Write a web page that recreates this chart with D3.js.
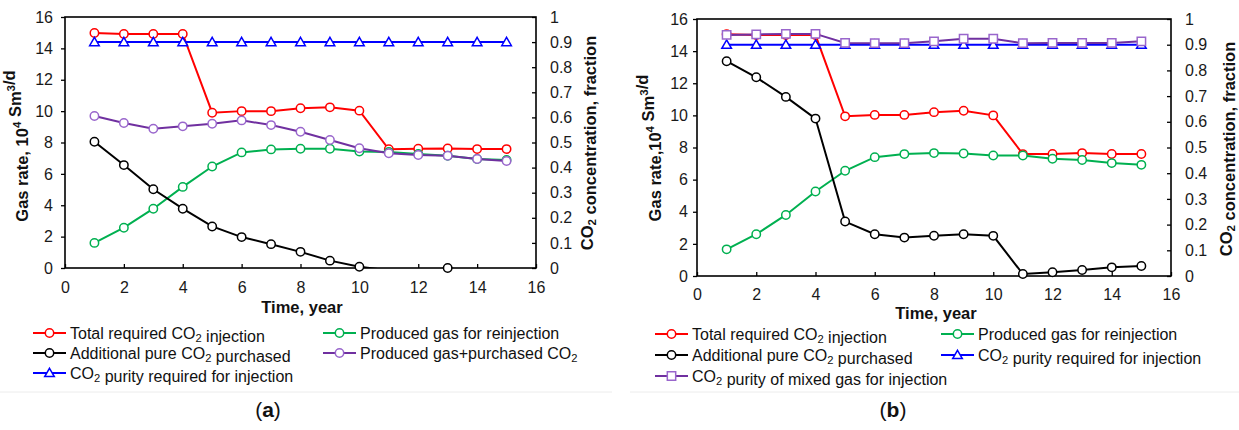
<!DOCTYPE html>
<html><head><meta charset="utf-8">
<script src="https://cdn.jsdelivr.net/npm/d3@7"></script>
<style>
body{margin:0;background:#fff}
text{font-family:Arial,"Liberation Sans",sans-serif}
</style>
</head><body>
<svg id="c" width="1239" height="430"></svg>
<script>
// ---------- data ----------
const years = [1,2,3,4,5,6,7,8,9,10,11,12,13,14,15];
const xTicks = [0,2,4,6,8,10,12,14,16];
const yLeftTicks = [0,2,4,6,8,10,12,14,16];
const yRightTicks = [0,0.1,0.2,0.3,0.4,0.5,0.6,0.7,0.8,0.9,1];

// panel (a)
const aTotal    = [14.98,14.92,14.92,14.92,9.9,10.0,10.0,10.18,10.24,10.03,7.57,7.6,7.62,7.58,7.58];
const aProduced = [1.6,2.57,3.78,5.17,6.47,7.37,7.56,7.6,7.6,7.43,7.4,7.27,7.16,6.95,6.88];
const aPurchased= [8.05,6.56,5.02,3.78,2.65,1.97,1.52,1.03,0.47,0.08,-0.15,-0.3,0,-0.3,-0.5];
const aMixed    = [9.69,9.24,8.88,9.03,9.2,9.41,9.11,8.69,8.16,7.63,7.31,7.2,7.16,6.95,6.82];
const aPurity   = [0.9,0.9,0.9,0.9,0.9,0.9,0.9,0.9,0.9,0.9,0.9,0.9,0.9,0.9,0.9];

// panel (b)
const bTotal    = [15.05,15.0,15.0,15.0,9.94,10.03,10.03,10.2,10.29,10.0,7.59,7.6,7.65,7.6,7.6];
const bProduced = [1.66,2.6,3.8,5.26,6.55,7.4,7.59,7.65,7.63,7.5,7.5,7.3,7.22,7.03,6.92];
const bPurchased= [13.37,12.37,11.15,9.8,3.39,2.6,2.39,2.51,2.6,2.5,0.12,0.23,0.37,0.54,0.62];
const bPurityReq= [0.9,0.9,0.9,0.9,0.9,0.9,0.9,0.9,0.9,0.9,0.9,0.9,0.9,0.9,0.9];
const bPurityMix= [0.938,0.94,0.942,0.942,0.907,0.906,0.906,0.913,0.923,0.923,0.906,0.907,0.907,0.907,0.913];

// legend labels (arrays = subscript)
const lblTotal = ["Total required CO",["2"]," injection"];
const lblProduced = ["Produced gas for reinjection"];
const lblPurchased = ["Additional pure CO",["2"]," purchased"];
const lblMixedA = ["Produced gas+purchased CO",["2"]];
const lblPurityReq = ["CO",["2"]," purity required for injection"];
const lblPurityMix = ["CO",["2"]," purity of mixed gas for injection"];

const RED="#ff0000", GREEN="#00b050", BLACK="#000000", BLUE="#0000ff", PURPLE="#7030a0", PURPLE_M="#9966cc";

const svg = d3.select("#c");

function richText(sel, parts, size){
  parts.forEach(p=>{
    if(Array.isArray(p)){
      sel.append("tspan").attr("font-size", size*0.7).attr("dy", size*0.22).text(p[0]);
      sel.append("tspan").attr("dy", -size*0.22).text("");
    } else sel.append("tspan").text(p);
  });
}
function supText(sel, parts, size){
  parts.forEach(p=>{
    if(Array.isArray(p)){
      sel.append("tspan").attr("font-size", size*0.7).attr("dy", -size*0.4).text(p[0]);
      sel.append("tspan").attr("dy", size*0.4).text("");
    } else sel.append("tspan").text(p);
  });
}

function marker(g, shape, x, y, color){
  if(shape==="circle"){
    g.append("circle").attr("cx",x).attr("cy",y).attr("r",4.2)
      .attr("fill","#fff").attr("stroke",color).attr("stroke-width",1.5);
  } else {
    const t = shape==="triangle" ? d3.symbolTriangle : d3.symbolSquare;
    const s = shape==="triangle" ? 40 : 70;
    g.append("path").attr("d", d3.symbol(t, s)()).attr("transform",`translate(${x},${y+(shape==="triangle"?0.8:0)})`)
      .attr("fill","#fff").attr("stroke",color).attr("stroke-width",1.5);
  }
}

function panel(cfg){
  const g = svg.append("g");
  const x = d3.scaleLinear().domain([0,16]).range(cfg.xr);
  const yL = d3.scaleLinear().domain([0,16]).range(cfg.yr);
  const yR = d3.scaleLinear().domain([0,1]).range(cfg.yr);
  const id = "clip"+cfg.key;
  svg.append("clipPath").attr("id",id).append("rect")
    .attr("x",cfg.xr[0]).attr("y",cfg.yr[1]).attr("width",cfg.xr[1]-cfg.xr[0]).attr("height",cfg.yr[0]-cfg.yr[1]);

  // axes
  const axL = g.append("g").attr("transform",`translate(${cfg.xr[0]},0)`)
    .call(d3.axisLeft(yL).tickValues(yLeftTicks).tickSizeInner(4).tickSizeOuter(0).tickPadding(cfg.padL));
  const axR = g.append("g").attr("transform",`translate(${cfg.xr[1]},0)`)
    .call(d3.axisRight(yR).tickValues(yRightTicks).tickFormat(d3.format("~g")).tickSizeInner(-4).tickSizeOuter(0).tickPadding(cfg.padR));
  const axB = g.append("g").attr("transform",`translate(0,${cfg.yr[0]})`)
    .call(d3.axisBottom(x).tickValues(xTicks).tickSizeInner(-4).tickSizeOuter(0).tickPadding(cfg.padB));
  [axL,axR,axB].forEach(a=>{
    a.selectAll("text").attr("font-size",16).attr("fill","#1a1a1a").attr("font-family","Arial, 'Liberation Sans', sans-serif");
    a.selectAll("line").attr("stroke","#000").attr("stroke-width",1.3);
    a.select(".domain").attr("stroke","none");
  });
  g.append("rect").attr("x",cfg.xr[0]).attr("y",cfg.yr[1]).attr("width",cfg.xr[1]-cfg.xr[0]).attr("height",cfg.yr[0]-cfg.yr[1])
    .attr("fill","none").attr("stroke","#000").attr("stroke-width",1.6);

  // series
  cfg.series.forEach(s=>{
    const y = s.axis==="R" ? yR : yL;
    const line = d3.line().x((d,i)=>x(years[i])).y(d=>y(d));
    g.append("path").datum(s.values).attr("d",line).attr("fill","none")
      .attr("stroke",s.color).attr("stroke-width",2).attr("clip-path",`url(#${id})`);
    const mg = g.append("g");
    s.values.forEach((v,i)=>{ if(v>=0) marker(mg, s.shape, x(years[i]), y(v), s.mcolor||s.color); });
  });

  // axis titles
  const TS = 16.5;
  const tl = g.append("text").attr("font-size",TS).attr("font-weight","bold").attr("fill","#111")
    .attr("text-anchor","middle").attr("transform",`translate(${cfg.tL[0]},${cfg.tL[1]}) rotate(-90)`).attr("dy","0.35em");
  supText(tl, cfg.titleL, TS);
  const tr = g.append("text").attr("font-size",TS).attr("font-weight","bold").attr("fill","#111")
    .attr("text-anchor","middle").attr("transform",`translate(${cfg.tR[0]},${cfg.tR[1]}) rotate(-90)`).attr("dy","0.35em");
  richText(tr, ["CO",["2"]," concentration, fraction"], TS);
  g.append("text").attr("font-size",TS).attr("font-weight","bold").attr("fill","#111")
    .attr("text-anchor","middle").attr("x",cfg.tB[0]).attr("y",cfg.tB[1]).attr("dy","0.35em").text("Time, year");

  // legend
  cfg.series.forEach(s=>{
    const [lx,ly] = cfg.legendPos[s.slot];
    const lg = g.append("g").attr("transform",`translate(${lx},${ly})`);
    lg.append("line").attr("x1",0).attr("x2",33).attr("y1",0).attr("y2",0).attr("stroke",s.color).attr("stroke-width",2);
    marker(lg, s.shape, 16.5, 0, s.mcolor||s.color);
    const t = lg.append("text").attr("x",37).attr("dy","0.35em").attr("font-size",16).attr("fill","#111");
    richText(t, s.label, 16);
  });

  // separator + caption
  g.append("line").attr("x1",cfg.sep[0]).attr("x2",cfg.sep[1]).attr("y1",392).attr("y2",392).attr("stroke","#ececec").attr("stroke-width",1);
  const cap = g.append("text").attr("x",cfg.cap[0]).attr("y",cfg.cap[1]).attr("text-anchor","middle").attr("dy","0.35em")
    .attr("font-size",21).attr("font-family","'Liberation Serif','DejaVu Serif',serif").attr("fill","#111");
  cap.append("tspan").text("(");
  cap.append("tspan").attr("font-weight","bold").text(cfg.key);
  cap.append("tspan").text(")");
}

panel({
  key:"a", xr:[65,536], yr:[268,17], padL:8, padR:14, padB:14,
  titleL:["Gas rate, 10",["4"]," Sm",["3"],"/d"], tL:[22,146], tR:[587,143], tB:[302,307],
  legendPos:[[33,333],[323,333],[33,353],[323,353],[33,373]],
  sep:[0,612], cap:[268,410],
  series:[
    {values:aTotal, axis:"L", color:RED, shape:"circle", label:lblTotal, slot:0},
    {values:aProduced, axis:"L", color:GREEN, shape:"circle", label:lblProduced, slot:1},
    {values:aPurchased, axis:"L", color:BLACK, shape:"circle", label:lblPurchased, slot:2},
    {values:aMixed, axis:"L", color:PURPLE, mcolor:PURPLE_M, shape:"circle", label:lblMixedA, slot:3},
    {values:aPurity, axis:"R", color:BLUE, shape:"triangle", label:lblPurityReq, slot:4}
  ]
});
panel({
  key:"b", xr:[697,1171], yr:[276,19], padL:5, padR:14, padB:13,
  titleL:["Gas rate,10",["4"]," Sm",["3"],"/d"], tL:[655,148], tR:[1226,149], tB:[936,313],
  legendPos:[[655,334],[941,334],[655,355],[941,355],[655,376]],
  sep:[630,1239], cap:[893,410],
  series:[
    {values:bTotal, axis:"L", color:RED, shape:"circle", label:lblTotal, slot:0},
    {values:bProduced, axis:"L", color:GREEN, shape:"circle", label:lblProduced, slot:1},
    {values:bPurchased, axis:"L", color:BLACK, shape:"circle", label:lblPurchased, slot:2},
    {values:bPurityReq, axis:"R", color:BLUE, shape:"triangle", label:lblPurityReq, slot:3},
    {values:bPurityMix, axis:"R", color:PURPLE, mcolor:PURPLE_M, shape:"square", label:lblPurityMix, slot:4}
  ]
});
</script>
</body></html>
